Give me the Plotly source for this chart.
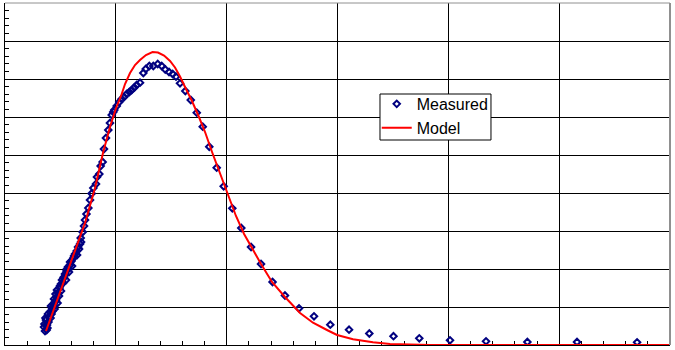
import plotly.graph_objects as go

measured_x = [0.352, 0.361, 0.376, 0.383, 0.356, 0.379, 0.370, 0.392, 0.365, 0.397, 0.388, 0.411,
              0.406, 0.420, 0.429, 0.424, 0.415, 0.447, 0.438, 0.451, 0.460, 0.474, 0.442, 0.456,
              0.465, 0.487, 0.478, 0.469, 0.505, 0.492, 0.496, 0.505, 0.523, 0.514, 0.528, 0.550,
              0.532, 0.541, 0.577, 0.555, 0.559, 0.568, 0.605, 0.587, 0.587, 0.600, 0.623, 0.618,
              0.650, 0.632, 0.647, 0.668, 0.659, 0.677, 0.686, 0.683, 0.701, 0.713, 0.722, 0.735,
              0.752, 0.767, 0.782, 0.797, 0.821, 0.830, 0.851, 0.863, 0.881, 0.893, 0.911, 0.932,
              0.947, 0.963, 0.977, 0.986, 1.008, 1.031, 1.053, 1.074, 1.098, 1.122, 1.143, 1.167,
              1.188, 1.218, 1.248, 1.270, 1.302, 1.338, 1.378, 1.414, 1.446, 1.480, 1.513, 1.543,
              1.579, 1.627, 1.676, 1.730, 1.784, 1.843, 1.910, 1.973, 2.051, 2.132, 2.220, 2.310,
              2.414, 2.526, 2.653, 2.788, 2.935, 3.104, 3.287, 3.505, 3.738, 4.015, 4.340, 4.713,
              5.161, 5.703]
measured_y = [0.474, 0.368, 0.395, 0.447, 0.553, 0.526, 0.658, 0.605, 0.711, 0.737, 0.816, 0.711,
              0.868, 0.816, 0.895, 0.974, 1.026, 0.947, 1.053, 1.132, 1.184, 1.105, 1.211, 1.342,
              1.263, 1.289, 1.368, 1.447, 1.421, 1.500, 1.553, 1.605, 1.632, 1.711, 1.763, 1.711,
              1.789, 1.868, 1.921, 1.947, 2.000, 2.053, 2.079, 2.105, 2.184, 2.211, 2.342, 2.289,
              2.368, 2.395, 2.474, 2.526, 2.579, 2.658, 2.711, 2.816, 2.974, 3.132, 3.289, 3.447,
              3.605, 3.816, 3.987, 4.132, 4.237, 4.421, 4.500, 4.711, 4.816, 5.158, 5.447, 5.658,
              5.842, 6.053, 6.132, 6.184, 6.289, 6.395, 6.474, 6.526, 6.605, 6.658, 6.711, 6.776,
              6.842, 6.903, 7.158, 7.263, 7.342, 7.342, 7.395, 7.342, 7.250, 7.184, 7.132, 7.061,
              6.887, 6.684, 6.447, 6.113, 5.745, 5.218, 4.666, 4.176, 3.597, 3.079, 2.579, 2.132,
              1.658, 1.303, 0.966, 0.755, 0.534, 0.403, 0.303, 0.232, 0.176, 0.124, 0.097, 0.079,
              0.079, 0.071]

# Model curve
model_x = [0.370, 0.451, 0.541, 0.632, 0.722, 0.812, 0.884, 0.947, 1.002, 1.047, 1.083, 1.128,
           1.173, 1.218, 1.272, 1.331, 1.380, 1.435, 1.489, 1.534, 1.579, 1.633, 1.687, 1.750,
           1.805, 1.868, 1.940, 2.012, 2.084, 2.157, 2.238, 2.310, 2.409, 2.526, 2.662, 2.779,
           2.905, 2.996, 3.140, 3.320, 3.474, 3.627, 3.835, 6.000]
model_y = [0.368, 1.026, 1.763, 2.447, 3.211, 4.132, 5.053, 5.737, 6.237, 6.553, 6.868, 7.158,
           7.368, 7.500, 7.632, 7.711, 7.697, 7.618, 7.474, 7.303, 7.066, 6.737, 6.421, 6.000,
           5.605, 5.079, 4.500, 3.921, 3.395, 2.921, 2.500, 2.132, 1.658, 1.263, 0.842, 0.587,
           0.395, 0.263, 0.150, 0.071, 0.026, 0.011, 0.000, 0.000]

fig = go.Figure()
fig.add_trace(go.Scatter(
    x=measured_x, y=measured_y, mode="markers", name="Measured",
    marker=dict(symbol="diamond-open", size=5, color="#000080", line=dict(width=2, color="#000080")),
))
fig.add_trace(go.Scatter(
    x=model_x, y=model_y, mode="lines", name="Model",
    line=dict(color="#FF0000", width=2), cliponaxis=False,
))

axis_common = dict(
    showgrid=True, gridcolor="black", gridwidth=1, zeroline=False,
    showticklabels=False, showline=True, linecolor="black", linewidth=1,
    ticks="inside", ticklen=4, tickcolor="black", layer="below traces",
)
fig.update_xaxes(range=[0, 6], dtick=1,
                 minor=dict(dtick=0.2, ticks="inside", ticklen=4, tickcolor="black", showgrid=False),
                 **axis_common)
fig.update_yaxes(range=[0, 9], dtick=1,
                 minor=dict(dtick=0.2, ticks="inside", ticklen=4, tickcolor="black", showgrid=False),
                 **axis_common)

# plot border (top/right grey)
fig.add_shape(type="line", xref="paper", yref="paper", x0=0, x1=1, y0=1, y1=1,
              line=dict(color="#909090", width=1), layer="above")
fig.add_shape(type="line", xref="paper", yref="paper", x0=1, x1=1, y0=0, y1=1,
              line=dict(color="#909090", width=2), layer="above")
# legend box
fig.add_shape(type="rect", xref="paper", yref="paper", x0=0.5639, x1=0.7308, y0=0.5994, y1=0.7339,
              fillcolor="white", line=dict(color="black", width=1), layer="above")

fig.update_layout(
    width=675, height=350,
    margin=dict(l=5, r=5, t=3, b=5),
    paper_bgcolor="white", plot_bgcolor="white",
    font=dict(family="Liberation Sans, Arial, sans-serif", size=16, color="black"),
    showlegend=True,
    legend=dict(x=0.559, y=0.7545, xanchor="left", yanchor="top",
                bgcolor="rgba(0,0,0,0)", borderwidth=0,
                itemwidth=30, tracegroupgap=0,
                font=dict(family="Liberation Sans, Arial, sans-serif", size=16)),
)

fig.write_html("out.html", config={"displayModeBar": False},
               post_script="document.body.style.margin='0';")
